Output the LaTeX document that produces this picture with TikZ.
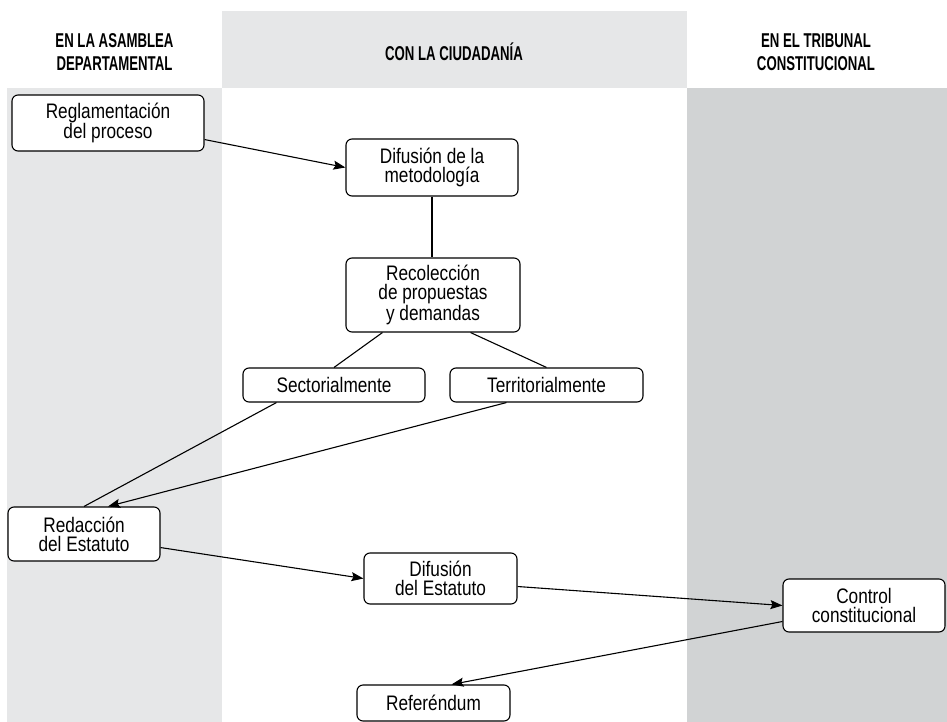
\documentclass[tikz,border=0pt]{standalone}
\usepackage{fontspec}
\setmainfont{Liberation Sans}[FakeStretch=0.82]
\newfontfamily\headfont{Liberation Sans}[FakeStretch=0.66]
\usepackage{tikz}
\usetikzlibrary{arrows.meta,positioning,calc}
\definecolor{lanelight}{HTML}{E6E7E8}
\definecolor{lanedark}{HTML}{D1D3D4}
\tikzset{
stepbox/.style={draw, rounded corners=6pt, fill=white, align=center, inner sep=0pt, line width=1.1pt, font=\fontsize{21}{19}\selectfont},
headtext/.style={align=center, font=\headfont\fontsize{20}{23}\selectfont\bfseries},
flowarrow/.style={-{Stealth[length=12pt,width=9pt,inset=2pt]}, line width=1.1pt},
flowline/.style={line width=1.1pt}
}

\begin{document}
\begin{tikzpicture}[x=1pt, y=-1pt]
\useasboundingbox (0,0) rectangle (947,722);
\fill[lanelight] (222,11) rectangle (687,88);
\fill[lanelight] (7,88) rectangle (222,722);
\fill[lanedark] (687,88) rectangle (947,722);

\node[headtext] (hasamblea) at (114.5,52) {EN LA ASAMBLEA\\DEPARTAMENTAL};
\node[headtext] (hciudad) at (454,52) {CON LA CIUDADANÍA};
\node[headtext] (htribunal) at (816,52) {EN EL TRIBUNAL\\CONSTITUCIONAL};

\node[stepbox, minimum width=192pt, minimum height=56pt] (regla) at (108,123) {Reglamentación\\del proceso};
\node[stepbox, minimum width=172pt, minimum height=57pt] (difmet) at (432,167.5) {Difusión de la\\metodología};
\node[stepbox, minimum width=174pt, minimum height=74pt] (recol) at (433,295) {Recolección\\de propuestas\\y demandas};
\node[stepbox, minimum width=182pt, minimum height=34pt] (sect) at (334,385) {Sectorialmente};
\node[stepbox, minimum width=193pt, minimum height=34pt] (terr) at (546.5,385) {Territorialmente};
\node[stepbox, minimum width=152pt, minimum height=54pt] (redac) at (84,534) {Redacción\\del Estatuto};
\node[stepbox, minimum width=153pt, minimum height=51pt] (difest) at (440.5,578.5) {Difusión\\del Estatuto};
\node[stepbox, minimum width=162pt, minimum height=53pt] (control) at (864,605.5) {Control\\constitucional};
\node[stepbox, minimum width=153pt, minimum height=36pt] (refer) at (433.5,703) {Referéndum};

\draw[flowarrow] ([yshift=12pt]regla.south east) -- (difmet.west);
\draw[flowline] (difmet.south) -- (difmet.south |- recol.north);
\draw[flowline] ([xshift=37pt]recol.south west) -- (sect.north);
\draw[flowline] ([xshift=-50pt]recol.south east) -- (terr.north);
\draw[flowline] ([xshift=34pt]sect.south west) -- (redac.north);
\draw[flowarrow] ([xshift=57pt]terr.south west) -- ([xshift=24pt]redac.north);
\draw[flowarrow] ([yshift=14pt]redac.south east) -- (difest.west);
\draw[flowarrow] ([yshift=-8pt]difest.east) -- (control.west);
\draw[flowarrow] ([yshift=-16pt]control.west) -- ([xshift=18pt]refer.north);
\end{tikzpicture}
\end{document}
